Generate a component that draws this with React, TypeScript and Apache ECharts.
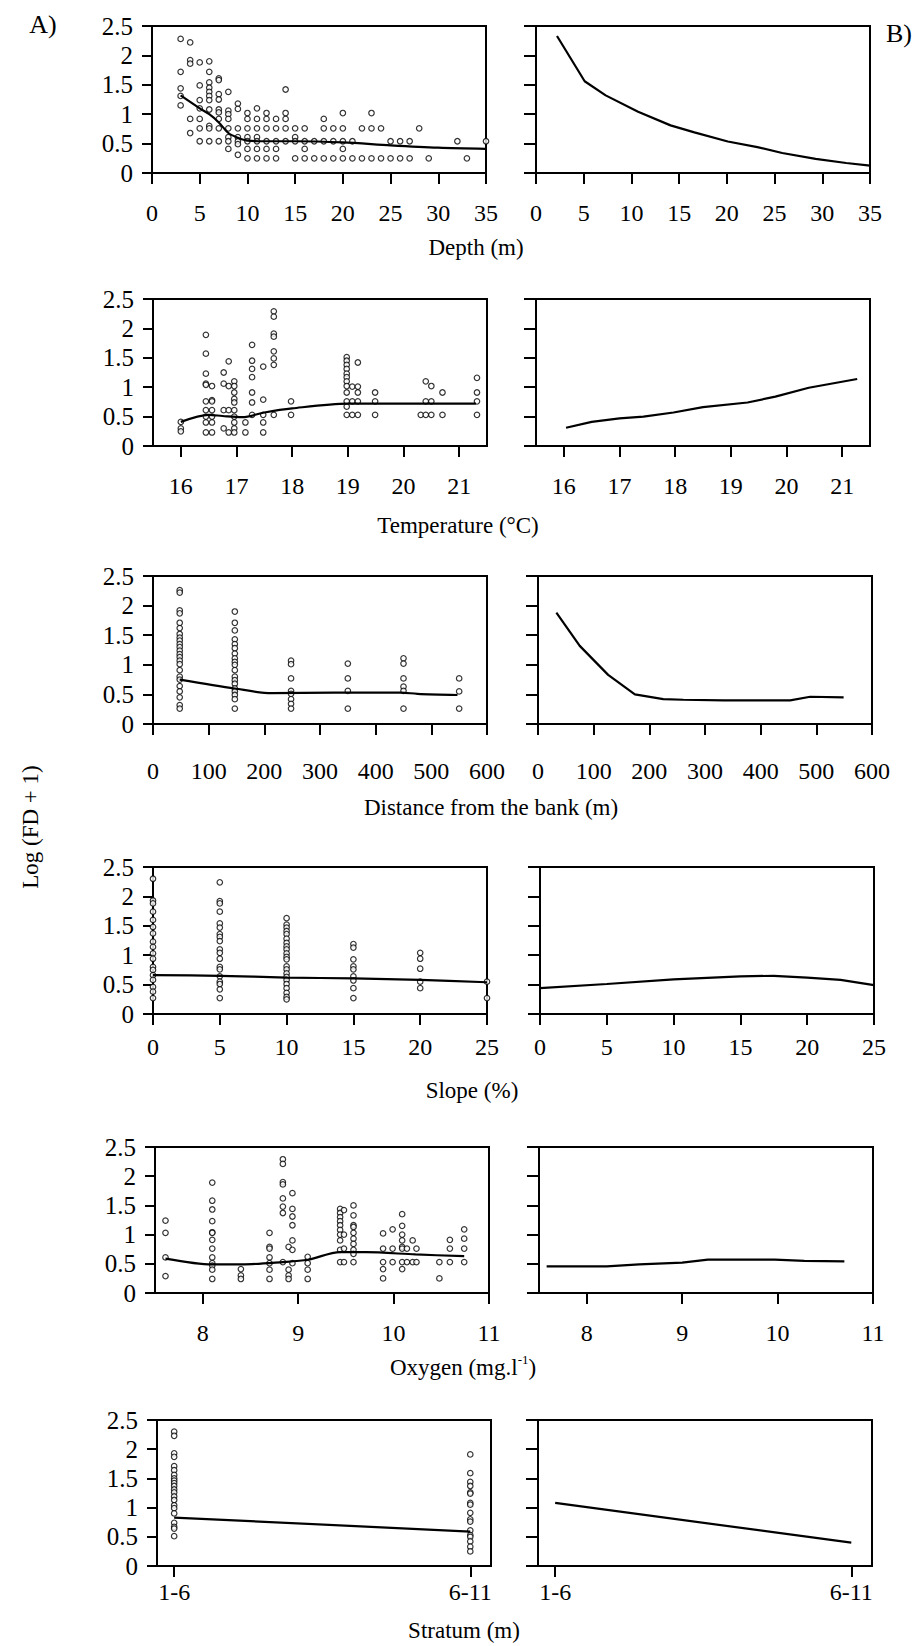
import React, { useEffect, useRef } from "react";
import * as echarts from "echarts";

// ---------- DATA ----------
const Y_MIN = 0;
const Y_MAX = 2.5;
const Y_STEP = 0.5;

const depthObs: [number, number[]][] = [
  [3, [2.28, 1.72, 1.44, 1.31, 1.15]],
  [4, [2.22, 1.92, 1.86, 0.92, 0.68]],
  [5, [1.88, 1.49, 1.24, 1.1, 0.92, 0.76, 0.54]],
  [6, [1.9, 1.72, 1.54, 1.45, 1.38, 1.31, 1.24, 1.08, 0.8, 0.76, 0.54]],
  [7, [1.61, 1.58, 1.34, 1.25, 1.08, 1.03, 0.92, 0.76, 0.54]],
  [8, [1.38, 1.06, 1.0, 0.92, 0.76, 0.61, 0.54, 0.41]],
  [9, [1.18, 1.09, 0.76, 0.61, 0.54, 0.49, 0.31]],
  [10, [1.02, 0.92, 0.76, 0.61, 0.54, 0.41, 0.25]],
  [11, [1.1, 0.92, 0.76, 0.61, 0.54, 0.41, 0.25]],
  [12, [1.02, 0.92, 0.76, 0.54, 0.41, 0.25]],
  [13, [0.92, 0.76, 0.54, 0.41, 0.25]],
  [14, [1.42, 1.02, 0.92, 0.76, 0.54]],
  [15, [0.76, 0.61, 0.54, 0.25]],
  [16, [0.76, 0.54, 0.41, 0.25]],
  [17, [0.54, 0.25]],
  [18, [0.92, 0.76, 0.54, 0.25]],
  [19, [0.76, 0.54, 0.25]],
  [20, [1.02, 0.76, 0.54, 0.41, 0.25]],
  [21, [0.54, 0.25]],
  [22, [0.76, 0.25]],
  [23, [1.02, 0.76, 0.25]],
  [24, [0.76, 0.25]],
  [25, [0.54, 0.25]],
  [26, [0.54, 0.25]],
  [27, [0.54, 0.25]],
  [28, [0.76]],
  [29, [0.25]],
  [32, [0.54]],
  [33, [0.25]],
  [35, [0.54]],
];
const depthFit: [number, number][] = [
  [3, 1.32], [5, 1.1], [6, 1.0], [7, 0.86], [8, 0.68], [9, 0.6], [10, 0.55],
  [12, 0.54], [15, 0.54], [20, 0.52], [25, 0.47], [30, 0.43], [35, 0.41],
];
const depthPartial: [number, number][] = [
  [2.2, 2.33], [5.1, 1.56], [7.3, 1.32], [10.7, 1.04], [14.1, 0.81], [16.6, 0.69],
  [20.1, 0.535], [23.2, 0.44], [25.8, 0.34], [29.3, 0.24], [32.5, 0.17], [35, 0.125],
];

const tempObs: [number, number[]][] = [
  [16.0, [0.41, 0.3, 0.25]],
  [16.45, [1.89, 1.57, 1.23, 1.06, 1.04, 0.76, 0.61, 0.5, 0.4, 0.23]],
  [16.56, [1.02, 0.78, 0.76, 0.61, 0.5, 0.4, 0.23]],
  [16.77, [1.25, 1.06, 0.61, 0.3]],
  [16.86, [1.44, 1.02, 0.61, 0.23]],
  [16.96, [1.1, 1.02, 0.91, 0.8, 0.74, 0.61, 0.5, 0.4, 0.3, 0.23]],
  [17.16, [0.4, 0.23]],
  [17.28, [1.72, 1.45, 1.31, 1.17, 0.91, 0.74, 0.53]],
  [17.48, [1.35, 0.79, 0.53, 0.4, 0.23]],
  [17.67, [2.29, 2.2, 1.91, 1.86, 1.61, 1.49, 1.38, 0.53]],
  [17.98, [0.76, 0.53]],
  [18.98, [1.51, 1.45, 1.38, 1.31, 1.23, 1.17, 1.1, 1.02, 0.91, 0.76, 0.67, 0.53]],
  [19.08, [1.01, 0.76, 0.53]],
  [19.18, [1.42, 1.01, 0.91, 0.76, 0.53]],
  [19.49, [0.91, 0.76, 0.53]],
  [20.31, [0.53]],
  [20.4, [1.1, 0.76, 0.53]],
  [20.5, [1.02, 0.76, 0.53]],
  [20.7, [0.91, 0.53]],
  [21.32, [1.16, 0.91, 0.76, 0.53]],
];
const tempFit: [number, number][] = [
  [16, 0.41], [16.5, 0.53], [16.75, 0.51], [17.1, 0.49], [17.5, 0.57], [18, 0.64],
  [19, 0.72], [20, 0.72], [21.3, 0.72],
];
const tempPartial: [number, number][] = [
  [16.04, 0.31], [16.5, 0.41], [17.0, 0.47], [17.43, 0.5], [17.97, 0.57], [18.5, 0.66],
  [19.3, 0.74], [19.8, 0.84], [20.4, 0.99], [21.27, 1.14],
];
const tempTicks = [16, 17, 18, 19, 20, 21];

const distObs: [number, number[]][] = [
  [48, [2.26, 2.22, 1.92, 1.87, 1.71, 1.62, 1.52, 1.46, 1.41, 1.35, 1.3, 1.24, 1.18, 1.13, 1.07, 1.01, 0.91, 0.8, 0.75, 0.64, 0.55, 0.45, 0.32, 0.26]],
  [147, [1.9, 1.71, 1.58, 1.43, 1.35, 1.28, 1.19, 1.11, 1.05, 1.0, 0.91, 0.8, 0.74, 0.68, 0.6, 0.55, 0.49, 0.42, 0.26]],
  [248, [1.07, 1.01, 0.77, 0.56, 0.51, 0.42, 0.34, 0.26]],
  [350, [1.02, 0.77, 0.56, 0.26]],
  [450, [1.11, 1.02, 0.77, 0.63, 0.56, 0.26]],
  [550, [0.77, 0.55, 0.26]],
];
const distFit: [number, number][] = [
  [48, 0.75], [147, 0.6], [213, 0.52], [325, 0.53], [445, 0.53], [475, 0.51], [547, 0.49],
];
const distPartial: [number, number][] = [
  [33, 1.88], [75, 1.32], [126, 0.83], [174, 0.5], [225, 0.42], [261, 0.41],
  [333, 0.4], [453, 0.4], [489, 0.46], [549, 0.45],
];

const slopeObs: [number, number[]][] = [
  [0, [2.3, 1.93, 1.88, 1.74, 1.6, 1.48, 1.37, 1.23, 1.14, 1.03, 0.94, 0.8, 0.75, 0.66, 0.58, 0.46, 0.38, 0.27]],
  [5, [2.24, 1.92, 1.88, 1.74, 1.54, 1.47, 1.36, 1.31, 1.24, 1.1, 1.04, 0.94, 0.8, 0.76, 0.64, 0.55, 0.51, 0.42, 0.27]],
  [10, [1.63, 1.52, 1.47, 1.41, 1.36, 1.28, 1.21, 1.15, 1.1, 1.03, 0.97, 0.93, 0.81, 0.76, 0.69, 0.63, 0.58, 0.51, 0.44, 0.36, 0.29, 0.25]],
  [15, [1.19, 1.13, 0.93, 0.81, 0.76, 0.64, 0.57, 0.44, 0.27]],
  [20, [1.04, 0.94, 0.77, 0.55, 0.44]],
  [25, [0.55, 0.27]],
];
const slopeFit: [number, number][] = [
  [0, 0.66], [5, 0.65], [10, 0.62], [15, 0.605], [20, 0.58], [25, 0.54],
];
const slopePartial: [number, number][] = [
  [0, 0.44], [5, 0.51], [10, 0.59], [15, 0.64], [17.5, 0.65], [20, 0.62], [22.5, 0.58], [25, 0.49],
];

const oxyObs: [number, number[]][] = [
  [7.61, [1.24, 1.03, 0.61, 0.29]],
  [8.1, [1.89, 1.58, 1.43, 1.23, 1.04, 1.03, 0.91, 0.76, 0.61, 0.51, 0.47, 0.4, 0.24]],
  [8.4, [0.41, 0.3, 0.24]],
  [8.7, [1.03, 0.79, 0.76, 0.61, 0.51, 0.4, 0.24]],
  [8.84, [2.29, 2.21, 1.9, 1.86, 1.62, 1.48, 1.37, 0.53]],
  [8.9, [0.79, 0.4, 0.3, 0.24]],
  [8.94, [1.71, 1.44, 1.31, 1.16, 0.9, 0.74, 0.51]],
  [9.1, [0.62, 0.51, 0.4, 0.24]],
  [9.44, [1.44, 1.37, 1.3, 1.23, 1.16, 1.08, 1.0, 0.9, 0.74, 0.53]],
  [9.48, [1.42, 1.0, 0.76, 0.53]],
  [9.58, [1.5, 1.33, 1.16, 1.13, 1.03, 0.93, 0.84, 0.74, 0.67, 0.53]],
  [9.89, [1.02, 0.76, 0.53, 0.41, 0.25]],
  [9.99, [1.09, 0.76, 0.53]],
  [10.09, [1.35, 1.15, 1.0, 0.9, 0.79, 0.76, 0.53, 0.41]],
  [10.14, [0.76, 0.53]],
  [10.2, [0.9, 0.53]],
  [10.24, [0.76, 0.53]],
  [10.48, [0.53, 0.25]],
  [10.59, [0.91, 0.76, 0.53]],
  [10.74, [1.09, 0.93, 0.76, 0.53]],
];
const oxyFit: [number, number][] = [
  [7.61, 0.59], [8.1, 0.49], [8.41, 0.49], [8.84, 0.53], [9.1, 0.57], [9.44, 0.7],
  [9.71, 0.7], [10.23, 0.66], [10.74, 0.63],
];
const oxyPartial: [number, number][] = [
  [7.58, 0.455], [8.21, 0.455], [8.55, 0.49], [9.0, 0.52], [9.27, 0.57], [9.69, 0.57],
  [9.97, 0.57], [10.28, 0.55], [10.7, 0.54],
];
const oxyTicks = [8, 9, 10, 11];

const strata = ["1-6", "6-11"];
const strataObs: number[][] = [
  [2.3, 2.23, 1.93, 1.87, 1.71, 1.64, 1.56, 1.5, 1.46, 1.42, 1.37, 1.31, 1.26, 1.19, 1.13, 1.04, 0.99, 0.9, 0.74, 0.67, 0.64, 0.51],
  [1.91, 1.59, 1.44, 1.37, 1.26, 1.24, 1.08, 1.05, 0.91, 0.8, 0.76, 0.61, 0.53, 0.5, 0.42, 0.33, 0.25],
];
const strataFit = [0.83, 0.59];
const strataPartial = [1.08, 0.4];

// ---------- HELPERS ----------
const FONT = '"Liberation Serif", "Times New Roman", serif';
const flat = (cols: [number, number[]][]) =>
  cols.flatMap(([x, ys]) => ys.map((y) => [x, y]));

type Row = {
  top: number;
  height: number;
  leftL: number;
  leftR: number;
  xMin: number;
  xMax: number;
  interval?: number;
  ticks?: number[];
  fmt?: (v: number) => string;
  labelMargin: number;
  obs: number[][];
  fit: number[][];
  partial: number[][];
  smooth: boolean;
};

const strataPts = strataObs.flatMap((ys, i) => ys.map((y) => [i + 1, y]));

const rows: Row[] = [
  { top: 26, height: 147, leftL: 152, leftR: 536, xMin: 0, xMax: 35, interval: 5, labelMargin: 28, obs: flat(depthObs), fit: depthFit, partial: depthPartial, smooth: true },
  { top: 299, height: 147, leftL: 153, leftR: 536, xMin: 15.5, xMax: 21.5, ticks: tempTicks, labelMargin: 28, obs: flat(tempObs), fit: tempFit, partial: tempPartial, smooth: true },
  { top: 576, height: 148, leftL: 153, leftR: 538, xMin: 0, xMax: 600, interval: 100, labelMargin: 35, obs: flat(distObs), fit: distFit, partial: distPartial, smooth: true },
  { top: 867, height: 147, leftL: 153, leftR: 540, xMin: 0, xMax: 25, interval: 5, labelMargin: 21, obs: flat(slopeObs), fit: slopeFit, partial: slopePartial, smooth: true },
  { top: 1147, height: 146, leftL: 155, leftR: 539, xMin: 7.5, xMax: 11, ticks: oxyTicks, labelMargin: 28, obs: flat(oxyObs), fit: oxyFit, partial: oxyPartial, smooth: true },
  { top: 1420, height: 146, leftL: 157, leftR: 538, xMin: 0.942, xMax: 2.07, ticks: [1, 2], fmt: (v) => strata[Math.round(v) - 1] ?? "", labelMargin: 14, obs: strataPts, fit: strataFit.map((y, i) => [i + 1, y]), partial: strataPartial.map((y, i) => [i + 1, y]), smooth: false },
];

const titles = [
  { text: "Depth (m)", x: 476, y: 247 },
  { text: "Temperature (°C)", x: 458, y: 525 },
  { text: "Distance from the bank (m)", x: 491, y: 807 },
  { text: "Slope (%)", x: 472, y: 1090 },
  { text: "Oxygen (mg.l-1)", x: 463, y: 1366 },
  { text: "Stratum (m)", x: 464, y: 1630 },
];

function buildOption() {
  const grid: any[] = [];
  const xAxis: any[] = [];
  const yAxis: any[] = [];
  const series: any[] = [];
  rows.forEach((r, ri) => {
    [0, 1].forEach((side) => {
      const idx = ri * 2 + side;
      const isLeft = side === 0;
      grid.push({
        left: isLeft ? r.leftL : r.leftR,
        top: r.top,
        width: 334,
        height: r.height,
        show: true,
        borderColor: "#000",
        borderWidth: 2,
        backgroundColor: "transparent",
        containLabel: false,
        outerBoundsMode: "none",
      });
      const ax: any = {
        gridIndex: idx,
        type: "value",
        min: r.xMin,
        max: r.xMax,
        splitLine: { show: false },
        axisLine: { show: true, onZero: false, lineStyle: { color: "#000", width: 2 } },
        axisTick: { show: true, inside: false, length: 11, lineStyle: { color: "#000", width: 2 } },
        axisLabel: {
          show: true,
          margin: r.labelMargin,
          color: "#000",
          fontFamily: FONT,
          fontSize: 24,
          showMinLabel: true,
          showMaxLabel: true,
        },
      };
      if (r.interval !== undefined) ax.interval = r.interval;
      if (r.ticks) {
        ax.axisTick.customValues = r.ticks;
        ax.axisLabel.customValues = r.ticks;
      }
      if (r.fmt) ax.axisLabel.formatter = r.fmt;
      xAxis.push(ax);
      yAxis.push({
        gridIndex: idx,
        type: "value",
        min: Y_MIN,
        max: Y_MAX,
        interval: Y_STEP,
        splitLine: { show: false },
        axisLine: { show: true, onZero: false, lineStyle: { color: "#000", width: 2 } },
        axisTick: { show: true, inside: false, length: isLeft ? 10 : 12, lineStyle: { color: "#000", width: 2 } },
        axisLabel: {
          show: isLeft,
          margin: 19,
          color: "#000",
          fontFamily: FONT,
          fontSize: 25,
        },
      });
      if (isLeft) {
        series.push({
          type: "scatter",
          xAxisIndex: idx,
          yAxisIndex: idx,
          data: r.obs,
          symbol: "circle",
          symbolSize: 5.5,
          itemStyle: { color: "#fff", borderColor: "#000", borderWidth: 1.2 },
          z: 2,
        });
        series.push({
          type: "line",
          xAxisIndex: idx,
          yAxisIndex: idx,
          data: r.fit,
          showSymbol: false,
          smooth: r.smooth ? 0.3 : false,
          lineStyle: { color: "#000", width: 2.2 },
          z: 3,
        });
      } else {
        series.push({
          type: "line",
          xAxisIndex: idx,
          yAxisIndex: idx,
          data: r.partial,
          showSymbol: false,
          smooth: false,
          lineStyle: { color: "#000", width: 2.2 },
          z: 3,
        });
      }
    });
  });

  const graphic: any[] = titles.map((t) => {
    if (t.text.startsWith("Oxygen")) {
      return {
        type: "text",
        x: t.x,
        y: t.y,
        style: {
          text: "{a|Oxygen (mg.l}{b|-1}{a|)}",
          textAlign: "center",
          textVerticalAlign: "middle",
          fill: "#000",
          rich: {
            a: { fontFamily: FONT, fontSize: 23, lineHeight: 26, fill: "#000", verticalAlign: "bottom" },
            b: { fontFamily: FONT, fontSize: 13, lineHeight: 26, fill: "#000", verticalAlign: "top" },
          },
        },
      };
    }
    return {
      type: "text",
      x: t.x,
      y: t.y,
      style: { text: t.text, font: `23px ${FONT}`, textAlign: "center", textVerticalAlign: "middle", fill: "#000" },
    };
  });
  graphic.push({
    type: "text",
    x: 43,
    y: 24,
    style: { text: "A)", font: `26px ${FONT}`, textAlign: "center", textVerticalAlign: "middle", fill: "#000" },
  });
  graphic.push({
    type: "text",
    x: 899,
    y: 33,
    style: { text: "B)", font: `26px ${FONT}`, textAlign: "center", textVerticalAlign: "middle", fill: "#000" },
  });
  graphic.push({
    type: "text",
    x: 30,
    y: 827,
    rotation: Math.PI / 2,
    style: { text: "Log (FD + 1)", font: `23px ${FONT}`, textAlign: "center", textVerticalAlign: "middle", fill: "#000" },
  });

  return {
    animation: false,
    backgroundColor: "#fff",
    grid,
    xAxis,
    yAxis,
    series,
    graphic,
  };
}

export default function App() {
  const ref = useRef<HTMLDivElement>(null);
  useEffect(() => {
    if (!ref.current) return;
    const chart = echarts.init(ref.current, undefined, { renderer: "svg" });
    chart.setOption(buildOption() as any);
    return () => chart.dispose();
  }, []);
  return (
    <div
      ref={ref}
      style={{ position: "absolute", left: 0, top: 0, width: 924, height: 1646, background: "#fff" }}
    />
  );
}
